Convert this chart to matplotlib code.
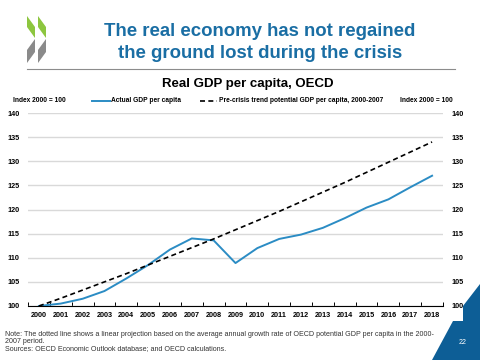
import numpy as np
import matplotlib
matplotlib.use("Agg")
import matplotlib.pyplot as plt
from matplotlib.patches import Polygon

# data
years = [str(y) for y in range(2000, 2019)]
actual = [100.0, 100.5, 101.5, 103.1, 105.7, 108.5, 111.7, 114.0, 113.6, 108.9,
          112.0, 113.9, 114.8, 116.2, 118.2, 120.4, 122.1, 124.6, 127.0]
trend = [100.0, 101.6, 103.3, 105.0, 106.7, 108.5, 110.3, 112.1, 113.9, 115.8,
         117.7, 119.6, 121.6, 123.6, 125.6, 127.7, 129.8, 131.9, 134.0]
yticks = [100, 105, 110, 115, 120, 125, 130, 135, 140]

plt.rcParams['font.family'] = ['Liberation Sans', 'DejaVu Sans']

W, H = 480, 360
fig = plt.figure(figsize=(W / 100, H / 100), dpi=100)


def px(x, y):
    return x / W, 1 - y / H


# =============================================================================
# header
# =============================================================================
blue_title = '#1a6ea4'
fig.text(*px(260, 32), 'The real economy has not regained', ha='center', va='center',
         fontsize=13.4, fontweight='bold', color=blue_title)
fig.text(*px(260, 54), 'the ground lost during the crisis', ha='center', va='center',
         fontsize=13.4, fontweight='bold', color=blue_title)
fig.add_artist(plt.Line2D([27 / W, 455 / W], [1 - 68.5 / H] * 2, color='#8c8c8c', lw=0.8))

# logo chevrons
green, grey = '#8dc63f', '#8a8a8a'
for dx in [0, 11]:
    g = [(27 + dx, 16), (35 + dx, 27), (35 + dx, 38), (27 + dx, 27)]
    k = [(27 + dx, 50), (35 + dx, 39), (35 + dx, 52), (27 + dx, 63)]
    fig.add_artist(Polygon([px(*p) for p in g], closed=True, color=green, lw=0, transform=fig.transFigure))
    fig.add_artist(Polygon([px(*p) for p in k], closed=True, color=grey, lw=0, transform=fig.transFigure))

fig.text(*px(248, 84), 'Real GDP per capita, OECD', ha='center', va='center',
         fontsize=9.5, fontweight='bold', color='black')

# =============================================================================
# chart
# =============================================================================
l, r, t, b = 28, 443, 113, 306
ax = fig.add_axes([l / W, 1 - b / H, (r - l) / W, (b - t) / H])
x = np.arange(len(years))
ax.plot(x, actual, color='#2b8cc4', lw=1.4, label='Actual GDP per capita', zorder=3)
ax.plot(x, trend, color='black', lw=1.2, ls=(0, (3, 2)),
        label='Pre-crisis trend potential GDP per capita, 2000-2007', zorder=3)
ax.set_xlim(-0.5, len(years) - 0.5)
ax.set_ylim(100, 140)
ax.set_yticks(yticks)
ax.grid(axis='y', color='#d9d9d9', lw=1.0)
ax.set_axisbelow(True)
for s in ['top', 'left', 'right']:
    ax.spines[s].set_visible(False)
ax.spines['bottom'].set_linewidth(0.8)
ax.set_xticks(x)
ax.set_xticklabels(years, fontweight='bold', fontsize=5.2)
ax.set_xticks(np.arange(-0.5, len(years), 1.0), minor=True)
ax.tick_params(axis='x', which='major', length=0, pad=4)
ax.tick_params(axis='x', which='minor', length=3, direction='in', width=0.7)
ax.tick_params(axis='y', length=0, pad=6, labelright=True, labelsize=5.2)
for lab in ax.get_yticklabels():
    lab.set_fontweight('bold')

# header labels and legend
hdr = dict(fontweight='bold', fontsize=4.8, va='center')
fig.text(*px(13, 101), 'Index 2000 = 100', **hdr)
fig.text(*px(400, 101), 'Index 2000 = 100', **hdr)
fig.add_artist(plt.Line2D([92 / W, 110 / W], [1 - 101 / H] * 2, color='#2b8cc4', lw=1.4))
fig.text(*px(111, 101), 'Actual GDP per capita', **hdr)
fig.add_artist(plt.Line2D([200 / W, 217 / W], [1 - 101 / H] * 2, color='black', lw=1.2, ls=(0, (3, 2))))
fig.text(*px(219, 101), 'Pre-crisis trend potential GDP per capita, 2000-2007', **hdr)

# =============================================================================
# footer
# =============================================================================
fig.add_artist(Polygon([px(480, 284), px(463, 306), px(463, 321), px(453, 321), px(432, 360), px(480, 360)],
                       closed=True, color='#0d5e96', lw=0, transform=fig.transFigure))
fig.text(*px(463, 343), '22', color='white', fontsize=5, ha='center', va='center')
note = ('Note: The dotted line shows a linear projection based on the average annual growth rate of OECD potential GDP per capita in the 2000-\n'
        '2007 period.\n'
        'Sources: OECD Economic Outlook database; and OECD calculations.')
fig.text(*px(5, 331), note, fontsize=5.1, color='#333333', va='top', linespacing=1.05)

fig.savefig('out.png', dpi=100)
